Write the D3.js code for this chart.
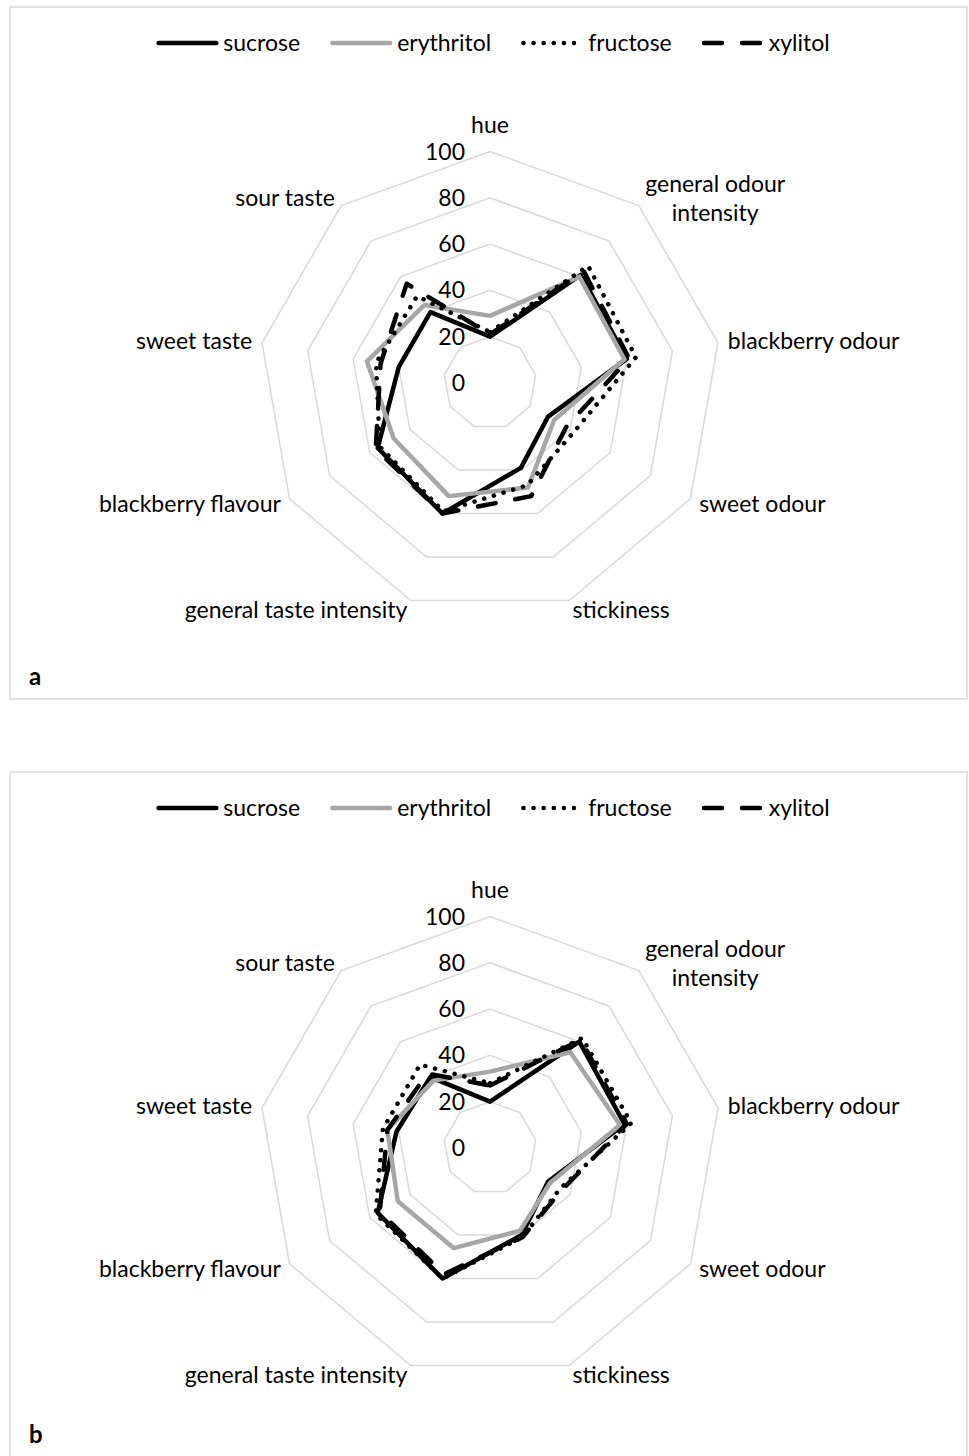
<!DOCTYPE html>
<html>
<head>
<meta charset="utf-8">
<script src="https://cdn.jsdelivr.net/npm/d3@7"></script>
<style>
  body { margin: 0; background: #ffffff; }
  svg { display: block; }
  text { font-family: Lato, "Open Sans", sans-serif; fill: #000; }
</style>
</head>
<body>
<svg id="chart" width="969" height="1456"></svg>
<script>
// Sensory attributes, clockwise from the top
const attributes = ["hue", "general odour intensity", "blackberry odour", "sweet odour",
  "stickiness", "general taste intensity", "blackberry flavour", "sweet taste", "sour taste"];
const seriesNames = ["sucrose", "erythritol", "fructose", "xylitol"];
const tickValues = [0, 20, 40, 60, 80, 100];

// Panel a scores (0-100)
const aSucrose    = [20, 61, 60, 29, 39, 60, 56, 40, 40];
const aErythritol = [29, 60, 59, 32, 48, 52, 48, 54, 44];
const aFructose   = [22, 66, 64, 42, 47, 59, 55, 50, 49];
const aXylitol    = [21, 63, 61, 38, 52, 60, 57, 48, 56];

// Panel b scores (0-100)
const bSucrose    = [20, 60, 59, 29, 40, 60, 56, 41, 40];
const bErythritol = [33, 54, 57, 30, 38, 46, 46, 45, 38];
const bFructose   = [28, 62, 62, 35, 41, 60, 57, 47, 47];
const bXylitol    = [27, 61, 60, 36, 41, 58, 55, 45, 42];

const panels = [
  { tag: "a", top: 7, series: [aSucrose, aErythritol, aFructose, aXylitol] },
  { tag: "b", top: 772, series: [bSucrose, bErythritol, bFructose, bXylitol] }
];

const styles = {
  sucrose:    { color: "#000000", dash: null,     cap: "round" },
  erythritol: { color: "#a6a6a6", dash: null,     cap: "round" },
  fructose:   { color: "#000000", dash: "0.1 10", cap: "round" },
  xylitol:    { color: "#000000", dash: "18 20",  cap: "round" }
};

const fontSize = 23;
const lineW = 4.5;
const radius = 231.5;
const r = d3.scaleLinear().domain([0, 100]).range([0, radius]);
const angle = d3.scaleLinear().domain([0, attributes.length]).range([0, 2 * Math.PI]);

const svg = d3.select("#chart");

const labelLines = name => name === "general odour intensity" ? ["general odour", "intensity"] : [name];

panels.forEach(p => {
  const g = svg.append("g").attr("transform", `translate(0,${p.top})`);

  // frame
  g.append("rect")
    .attr("x", 10).attr("y", 0)
    .attr("width", 957).attr("height", p.tag === "a" ? 692 : 700)
    .attr("fill", "#fff").attr("stroke", "#d9d9d9").attr("stroke-width", 1.5);

  // legend
  const lg = g.append("g").attr("transform", "translate(0,36)");
  const items = [];
  const gap = 30;
  let x = 0;
  seriesNames.forEach(n => {
    const it = lg.append("g");
    it.append("line").attr("x1", 2.25).attr("x2", 60).attr("y1", 0).attr("y2", 0)
      .attr("stroke", styles[n].color).attr("stroke-width", lineW)
      .attr("stroke-linecap", styles[n].cap)
      .attr("stroke-dasharray", styles[n].dash);
    const t = it.append("text").attr("x", 67).attr("y", 8).attr("font-size", fontSize).text(n);
    const w = 67 + t.node().getComputedTextLength();
    items.push({ it, x, w });
    x += w + gap;
  });
  const total = x - gap;
  const startX = 493 - total / 2;
  items.forEach(d => d.it.attr("transform", `translate(${startX + d.x},0)`));

  const c = g.append("g").attr("transform", `translate(490,376)`);

  // grid rings
  const ring = d3.lineRadial()
    .angle((d, i) => angle(i))
    .radius(d => r(d))
    .curve(d3.curveLinearClosed);
  c.selectAll("path.grid").data(tickValues.filter(v => v > 0)).join("path")
    .attr("class", "grid")
    .attr("d", v => ring(attributes.map(() => v)))
    .attr("fill", "none").attr("stroke", "#d9d9d9").attr("stroke-width", 1.5);

  // tick labels
  c.selectAll("text.tick").data(tickValues).join("text")
    .attr("class", "tick")
    .attr("x", -25).attr("y", v => -r(v) + 8)
    .attr("text-anchor", "end").attr("font-size", fontSize)
    .text(v => v);

  // category labels
  attributes.forEach((a, i) => {
    const th = angle(i);
    const s = Math.sin(th), co = Math.cos(th);
    const pad = 10;
    const px = (radius + pad) * s;
    let py = -(radius + pad) * co;
    const centred = Math.abs(s) < 0.1;
    const lines = labelLines(a);
    if (i === 0) py -= 17;
    const t = c.append("text").attr("font-size", fontSize);
    lines.forEach((ln, k) => {
      t.append("tspan").attr("x", 0).attr("dy", k === 0 ? 0 : 29).text(ln);
    });
    const widths = t.selectAll("tspan").nodes().map(nd => nd.getComputedTextLength());
    const bw = d3.max(widths);
    let left;
    if (centred) left = px - bw / 2;
    else if (s > 0) left = px;
    else left = px - bw;
    const blockH = (lines.length - 1) * 29;
    t.attr("y", py - blockH / 2 + 8);
    t.selectAll("tspan").attr("x", (d, k) => left + (bw - widths[k]) / 2);
  });

  // series
  const line = d3.lineRadial()
    .angle((d, i) => angle(i))
    .radius(d => r(d))
    .curve(d3.curveLinearClosed);
  seriesNames.forEach((n, k) => {
    c.append("path")
      .attr("d", line(p.series[k]))
      .attr("fill", "none")
      .attr("stroke", styles[n].color)
      .attr("stroke-width", lineW)
      .attr("stroke-linejoin", "round")
      .attr("stroke-linecap", styles[n].cap)
      .attr("stroke-dasharray", styles[n].dash);
  });

  // panel tag
  g.append("text").attr("x", 29).attr("y", p.tag === "a" ? 678 : 671)
    .attr("font-size", 24).attr("font-weight", "bold").text(p.tag);
});
</script>
</body>
</html>
